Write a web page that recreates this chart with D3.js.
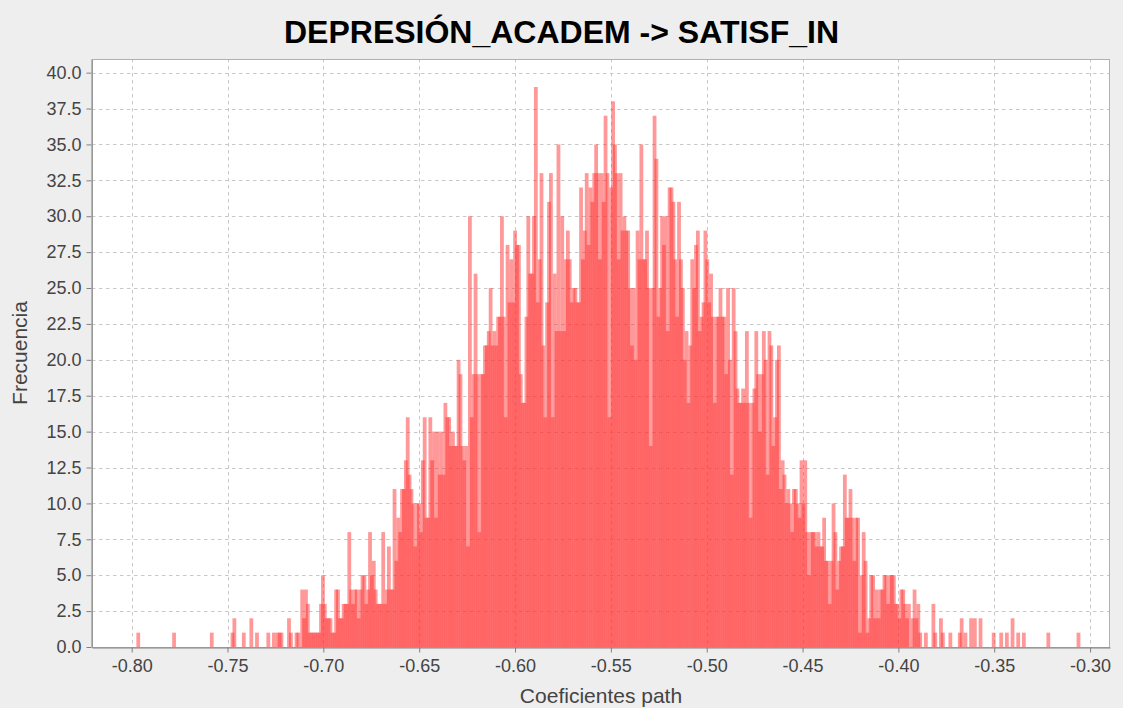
<!DOCTYPE html>
<html>
<head>
<meta charset="utf-8">
<script src="https://cdn.jsdelivr.net/npm/d3@7"></script>
<style>
  html, body { margin: 0; padding: 0; background: #eeeeee; }
  svg { display: block; }
  text { font-family: "Liberation Sans", Arial, Helvetica, sans-serif; }
</style>
</head>
<body>
<svg id="chart" width="1123" height="708"></svg>
<script>
// Bootstrap distribution of the path coefficient, 500 histogram bins
const chartTitle = "DEPRESIÓN_ACADEM -> SATISF_IN";
const xLabel = "Coeficientes path";
const yLabel = "Frecuencia";

const binStart = -0.79705;
const binWidth = 0.000983;
const binCounts = [
  1,0,0,0,0,0,0,0,0,0,
  0,0,0,0,0,0,0,0,0,1,
  0,0,0,0,0,0,0,0,0,0,
  0,0,0,0,0,0,0,0,0,1,
  0,0,0,0,0,0,0,0,0,0,
  1,2,0,0,0,0,1,0,0,0,
  2,0,0,1,0,0,0,0,0,1,
  0,0,1,0,1,1,1,0,0,0,
  2,1,0,0,1,1,0,4,2,4,
  3,1,1,1,1,1,1,3,5,3,
  2,2,2,1,1,4,4,2,2,3,
  3,3,8,4,3,4,4,2,4,5,
  5,3,4,8,5,6,4,3,3,3,
  8,3,4,7,4,4,11,6,9,8,
  11,11,13,16,12,11,10,7,10,10,
  8,13,16,9,9,16,13,15,9,15,
  12,15,12,17,16,16,14,15,14,14,
  20,19,14,13,14,7,30,16,19,26,
  19,8,19,19,21,21,22,25,21,22,
  21,23,23,30,23,16,28,24,27,24,
  29,28,28,19,17,17,23,30,26,26,
  30,39,24,27,33,21,16,24,31,33,
  16,26,22,35,22,30,22,27,29,27,
  24,25,25,24,24,32,27,29,33,28,
  32,31,33,35,33,27,33,31,37,33,
  16,32,38,35,33,27,33,29,30,29,
  29,25,21,25,20,29,27,35,27,27,
  29,25,14,25,37,34,23,25,30,28,
  30,22,32,32,31,27,23,31,27,25,
  20,22,17,21,27,25,28,29,22,23,
  24,29,27,24,26,23,17,23,23,25,
  23,23,19,25,20,12,25,22,18,17,
  17,18,17,22,17,9,17,18,22,19,
  15,19,22,20,12,22,21,14,16,20,
  21,11,13,12,10,11,10,8,11,11,
  10,9,13,10,13,8,5,8,8,8,
  7,8,7,7,9,6,6,3,6,10,
  8,4,6,7,7,12,9,9,11,9,
  6,9,9,1,5,8,6,1,2,5,
  5,2,4,2,4,4,5,5,3,5,
  5,5,3,3,2,4,4,3,2,3,
  0,2,4,2,3,1,0,0,1,0,
  0,0,3,1,0,0,2,1,0,0,
  0,1,0,0,0,0,1,2,0,1,
  0,0,2,0,2,0,0,2,0,0,
  0,0,0,0,1,0,0,0,1,0,
  0,1,0,0,2,0,0,1,0,0,
  1,0,0,0,0,0,0,0,0,0,
  0,0,0,1,0,0,0,0,0,0,
  0,0,0,0,0,0,0,0,0,1
];

const xTicks = [-0.80, -0.75, -0.70, -0.65, -0.60, -0.55, -0.50, -0.45, -0.40, -0.35, -0.30];
const yTicks = [0, 2.5, 5, 7.5, 10, 12.5, 15, 17.5, 20, 22.5, 25, 27.5, 30, 32.5, 35, 37.5, 40];
const xDomain = [-0.8207, -0.2896];
const yDomain = [0, 40.95];

// ---- layout ----
const plot = { left: 92, top: 59, right: 1110, bottom: 647 };
const svg = d3.select("#chart");

const x = d3.scaleLinear().domain(xDomain).range([plot.left, plot.right]);
const y = d3.scaleLinear().domain(yDomain).range([plot.bottom, plot.top]);

// chart background
svg.append("rect").attr("width", 1123).attr("height", 708).attr("fill", "#eeeeee");

// plot background
svg.append("rect")
  .attr("x", plot.left).attr("y", plot.top)
  .attr("width", plot.right - plot.left).attr("height", plot.bottom - plot.top)
  .attr("fill", "#ffffff");

// gridlines
const grid = svg.append("g").attr("stroke", "#c8c8c8").attr("stroke-width", 1)
  .attr("stroke-dasharray", "3.5,3.5");
grid.selectAll("line.v").data(xTicks).join("line")
  .attr("x1", d => Math.round(x(d)) + 0.5).attr("x2", d => Math.round(x(d)) + 0.5)
  .attr("y1", plot.top).attr("y2", plot.bottom);
grid.selectAll("line.h").data(yTicks.filter(d => d > 0)).join("line")
  .attr("x1", plot.left).attr("x2", plot.right)
  .attr("y1", d => Math.round(y(d)) + 0.5).attr("y2", d => Math.round(y(d)) + 0.5);

// histogram bars: translucent, each spreading half a bin over its neighbours,
// so the dense body reads darker than the lone spikes above it
const bins = binCounts.map((c, i) => ({
  x0: binStart + i * binWidth,
  x1: binStart + (i + 1) * binWidth,
  count: c
})).filter(b => b.count > 0);

svg.append("g").attr("fill", "#ff3232").attr("fill-opacity", 0.5)
  .selectAll("rect").data(bins).join("rect")
  .attr("x", d => x(d.x0) - (x(d.x1) - x(d.x0)) / 2)
  .attr("width", d => 2 * (x(d.x1) - x(d.x0)))
  .attr("y", d => y(d.count))
  .attr("height", d => y(0) - y(d.count));

// plot outline
svg.append("rect")
  .attr("x", plot.left + 0.5).attr("y", plot.top + 0.5)
  .attr("width", plot.right - plot.left - 1).attr("height", plot.bottom - plot.top)
  .attr("fill", "none").attr("stroke", "#b0b0b0");

// axes
const yAxis = d3.axisLeft(y).tickValues(yTicks).tickFormat(d => d.toFixed(1))
  .tickSizeInner(5).tickSizeOuter(0).tickPadding(5);
const xAxis = d3.axisBottom(x).tickValues(xTicks).tickFormat(d => d.toFixed(2))
  .tickSizeInner(5).tickSizeOuter(0).tickPadding(7);

const gy = svg.append("g").attr("transform", `translate(${plot.left - 0.5},0)`).call(yAxis);
const gx = svg.append("g").attr("transform", `translate(0,${plot.bottom + 0.5})`).call(xAxis);

[gx, gy].forEach(g => {
  g.select(".domain").attr("stroke", "#808080");
  g.selectAll(".tick line").attr("stroke", "#808080");
  g.selectAll(".tick text")
    .attr("fill", "#444444")
    .attr("font-size", 18)
    .attr("font-family", "'Liberation Sans', Arial, sans-serif");
});

// axis titles
svg.append("text")
  .attr("x", (plot.left + plot.right) / 2).attr("y", 703)
  .attr("text-anchor", "middle").attr("font-size", 21).attr("fill", "#444444")
  .text(xLabel);

svg.append("text")
  .attr("transform", `translate(27,${(plot.top + plot.bottom) / 2}) rotate(-90)`)
  .attr("text-anchor", "middle").attr("font-size", 21).attr("fill", "#444444")
  .text(yLabel);

// chart title
svg.append("text")
  .attr("x", 1123 / 2).attr("y", 43)
  .attr("text-anchor", "middle").attr("font-size", 32).attr("font-weight", "bold")
  .attr("fill", "#000000")
  .text(chartTitle);
</script>
</body>
</html>
